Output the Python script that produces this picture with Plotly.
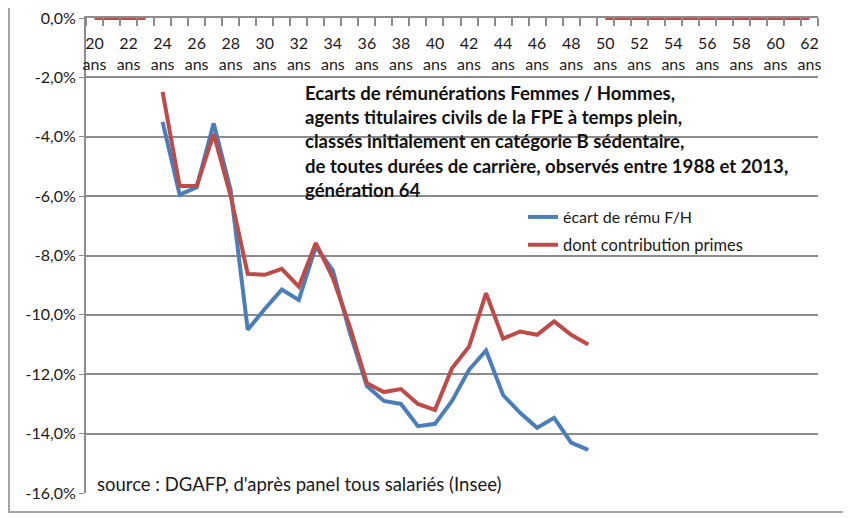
import plotly.graph_objects as go

ages = list(range(20, 63))
tick_ages = list(range(20, 63, 2))
tick_text = [f"{a}<br>ans" for a in tick_ages]

y_ticks = [0, -2, -4, -6, -8, -10, -12, -14, -16]
y_tick_text = [f"{v:.1f}%".replace(".", ",") for v in y_ticks]

# écart de rému F/H (en %), ages 20..62
ecart = [None, None, None, None,
         -3.5, -5.95, -5.7, -3.55, -5.8, -10.5, -9.8, -9.15, -9.5, -7.7,
         -8.5, -10.6, -12.4, -12.9, -13.0, -13.75, -13.67, -12.9, -11.85, -11.2,
         -12.7, -13.3, -13.8, -13.47, -14.3, -14.55,
         None, None, None, None, None, None, None, None, None, None, None, None, None]

# dont contribution primes (en %), ages 20..62
primes = [0.0, 0.0, 0.0, 0.0,
          -2.49, -5.66, -5.66, -3.9, -6.0, -8.62, -8.65, -8.45, -9.05, -7.58,
          -8.75, -10.4, -12.3, -12.6, -12.5, -13.0, -13.2, -11.8, -11.07, -9.27,
          -10.8, -10.56, -10.67, -10.22, -10.67, -11.0,
          0.0, 0.0, 0.0, 0.0, 0.0, 0.0, 0.0, 0.0, 0.0, 0.0, 0.0, 0.0, 0.0]

title_lines = [
    "Ecarts de rémunérations Femmes / Hommes,",
    "agents titulaires civils de la FPE à temps plein,",
    "classés initialement en catégorie B sédentaire,",
    "de toutes durées de carrière, observés entre 1988 et 2013,",
    "génération 64",
]
source_text = "source : DGAFP, d'après panel tous salariés (Insee)"

BLUE = "#4a7ebb"
RED = "#be4b48"
GRID = "#8c8c8c"
FONT = "Lato, 'Open Sans', sans-serif"
TXT = "#1a1a1a"

# page has an 8px body margin: figure is sized/offset to fit the 851x518 window
W, H = 843, 510
L, R, T, B = 78, 33, 10, 25
PW, PH = W - L - R, H - T - B

fig = go.Figure()
fig.add_trace(go.Scatter(x=ages, y=ecart, mode="lines", name="écart de rému F/H",
                         line=dict(color=BLUE, width=4), legend="legend"))
fig.add_trace(go.Scatter(x=ages[:4], y=primes[:4], mode="lines", showlegend=False,
                         line=dict(color=RED, width=4)))
fig.add_trace(go.Scatter(x=ages[4:30], y=primes[4:30], mode="lines",
                         name="dont contribution primes",
                         line=dict(color=RED, width=4), legend="legend2"))
fig.add_trace(go.Scatter(x=ages[30:], y=primes[30:], mode="lines", showlegend=False,
                         line=dict(color=RED, width=4)))
# carrier for the category labels axis
fig.add_trace(go.Scatter(x=[None], y=[None], xaxis="x2", yaxis="y", showlegend=False,
                         hoverinfo="skip"))

fig.update_layout(
    width=W, height=H,
    margin=dict(l=L, r=R, t=T, b=B),
    paper_bgcolor="white", plot_bgcolor="white",
    font=dict(family=FONT, size=16, color=TXT),
    xaxis=dict(
        range=[19.5, 62.5], side="top", showticklabels=False, ticks="",
        minor=dict(tickvals=[a + 0.5 for a in range(19, 63)], ticks="inside",
                   ticklen=8, tickcolor=GRID, tickwidth=1.5),
        showgrid=False, showline=True, linecolor=GRID, linewidth=2,
        zeroline=False, automargin=False,
    ),
    xaxis2=dict(
        range=[19.5, 62.5], overlaying="x", anchor="free", position=1.0,
        side="bottom", tickvals=tick_ages, ticktext=tick_text, ticks="",
        ticklabelstandoff=14, showgrid=False, showline=False, zeroline=False,
        tickfont=dict(size=16, color=TXT), automargin=False,
        ticklabeloverflow="allow",
    ),
    yaxis=dict(
        range=[-16, 0], tickvals=y_ticks, ticktext=y_tick_text,
        showgrid=True, gridcolor=GRID, gridwidth=2,
        showline=True, linecolor=GRID, linewidth=2,
        zeroline=False, ticks="outside", ticklen=5, tickcolor=GRID,
        tickfont=dict(size=16, color=TXT), automargin=False,
        ticklabeloverflow="allow",
    ),
    legend=dict(x=(515 - L) / PW, y=(H - B - 209) / PH, xanchor="left", yanchor="middle",
                bgcolor="rgba(0,0,0,0)", font=dict(size=16, color=TXT)),
    legend2=dict(x=(515 - L) / PW, y=(H - B - 237) / PH, xanchor="left", yanchor="middle",
                 bgcolor="rgba(0,0,0,0)", font=dict(size=16.5, color=TXT)),
    shapes=[dict(type="rect", xref="paper", yref="paper",
                 x0=(1 - L) / PW, x1=1 + 60 / PW, y0=-(504 - (H - B)) / PH, y1=1 + 40 / PH,
                 line=dict(color="#a6a6a6", width=2), layer="below")],
)

fig.add_annotation(xref="paper", yref="paper", x=(295 - L) / PW, y=(H - B - 72) / PH,
                   xanchor="left", yanchor="top", align="left", showarrow=False,
                   text="<b>" + "<br>".join(title_lines) + "</b>",
                   font=dict(size=18.6, color="#111111", family=FONT))
fig.add_annotation(xref="paper", yref="paper", x=(87 - L) / PW, y=(H - B - 476) / PH,
                   xanchor="left", yanchor="middle", showarrow=False,
                   text=source_text, font=dict(size=18.5, color=TXT, family=FONT))

fig.write_html("out.html")
